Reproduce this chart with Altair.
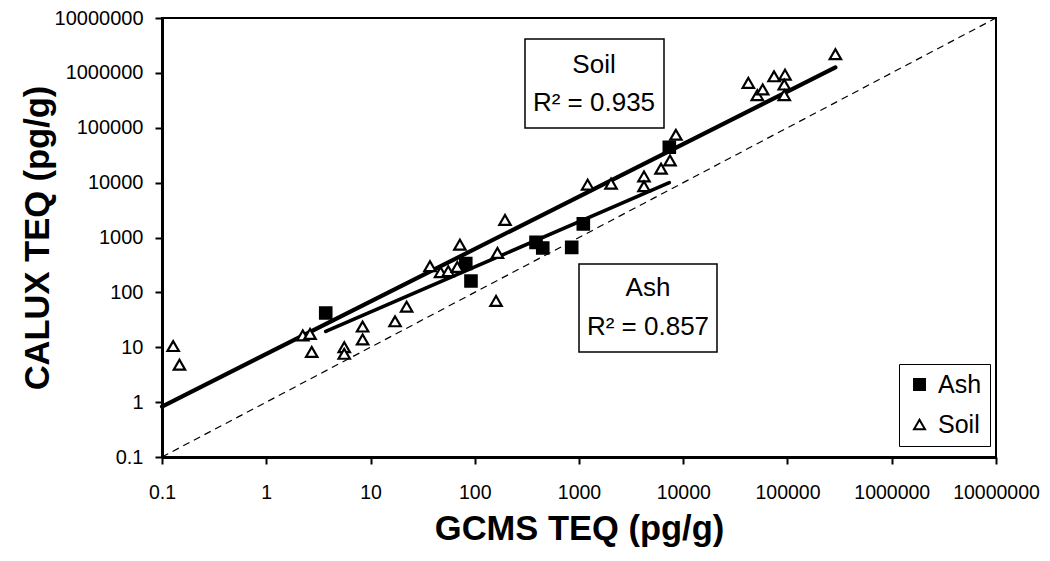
import altair as alt
import pandas as pd

# ---- data ----
ash_gcms = [3.72, 82, 92, 387, 449, 851, 1100, 7350]
ash_calux = [42, 335, 161, 815, 644, 662, 1770, 44000]

soil_gcms = [0.128, 0.147, 2.24, 2.63, 2.73, 5.6, 5.6, 8.4, 8.4, 17.2, 22.2,
             37.2, 47, 55.7, 68, 72, 165, 160, 195, 1210, 2030, 4200, 4200,
             6120, 7460, 8500, 42100, 51300, 57800, 74300, 94600, 93100, 93100, 288000]
soil_calux = [10.5, 4.8, 16.4, 17.5, 8.2, 10, 7.6, 23.8, 13.9, 29.7, 55,
              300, 234, 244, 290, 738, 523, 70, 2090, 9200, 9600, 13000, 8580,
              17900, 25300, 74500, 658000, 393000, 498000, 865000, 929000, 612000, 393000, 2190000]

# trendline end points (power trendlines)
soil_trend_gcms = [0.1, 288000]
soil_trend_calux = [0.83, 1260000]
ash_trend_gcms = [3.72, 7350]
ash_trend_calux = [19.4, 10000]

categories = ["Ash", "Soil"]
tick_values = [0.1, 1, 10, 100, 1000, 10000, 100000, 1000000, 10000000]
identity_line = [0.1, 10000000]

soil_label = ["Soil", "R² = 0.935"]
ash_label = ["Ash", "R² = 0.857"]

df = pd.DataFrame({
    "gcms": ash_gcms + soil_gcms,
    "calux": ash_calux + soil_calux,
    "sample": ["Ash"] * len(ash_gcms) + ["Soil"] * len(soil_gcms),
})
trend_df = pd.DataFrame({
    "gcms": soil_trend_gcms + ash_trend_gcms,
    "calux": soil_trend_calux + ash_trend_calux,
    "sample": ["Soil"] * 2 + ["Ash"] * 2,
})
ref_df = pd.DataFrame({"gcms": identity_line, "calux": identity_line})

FONT = "Liberation Sans"
W, H = 834, 439

xs = alt.Scale(type="log", domain=[0.1, 1e7], nice=False)
ys = alt.Scale(type="log", domain=[0.1, 1e7], nice=False)

x_axis = alt.Axis(values=tick_values, format=".1~f", grid=False, title="GCMS TEQ (pg/g)",
                  titleX=W / 2, titleY=72, titleBaseline="middle", titleAlign="center",
                  labelPadding=19, tickSize=7, labelOverlap=False, labelFlush=False,
                  labelBound=False, labelFontSize=19.5)
y_axis = alt.Axis(values=tick_values, format=".1~f", grid=False, title="CALUX TEQ (pg/g)",
                  titleX=-124, titleY=H / 2, titleBaseline="middle", titleAlign="center",
                  titleAngle=270, labelPadding=12, tickSize=7, labelOverlap=False,
                  labelFlush=False, labelBound=False)

X = alt.X("gcms:Q", scale=xs, axis=x_axis)
Y = alt.Y("calux:Q", scale=ys, axis=y_axis)

ref = alt.Chart(ref_df).mark_line(color="black", strokeWidth=1.2, strokeDash=[7, 5]).encode(x=X, y=Y)

soil_fit = alt.Chart(trend_df[trend_df["sample"] == "Soil"]).mark_line(
    color="black", strokeWidth=4.2, strokeCap="round").encode(x=X, y=Y)
ash_fit = alt.Chart(trend_df[trend_df["sample"] == "Ash"]).mark_line(
    color="black", strokeWidth=3.6, strokeCap="round").encode(x=X, y=Y)

legend = alt.Legend(title=None, orient="none", legendX=737, legendY=346,
                    strokeColor="black", fillColor="white",
                    padding=8, rowPadding=14, labelFont=FONT, labelFontSize=25,
                    labelColor="black", symbolSize=120, symbolStrokeWidth=2,
                    labelOffset=6)

points = alt.Chart(df).mark_point(size=130, strokeWidth=2.2, opacity=1, filled=False).encode(
    x=X, y=Y,
    shape=alt.Shape("sample:N", scale=alt.Scale(domain=categories, range=["square", "triangle-up"]), legend=legend),
    fill=alt.Fill("sample:N", scale=alt.Scale(domain=categories, range=["black", "white"]), legend=legend),
    stroke=alt.Stroke("sample:N", scale=alt.Scale(domain=categories, range=["black", "black"]), legend=legend),
)


def box(x0, x1, y0, y1):
    return alt.Chart(pd.DataFrame({"b": [0]})).mark_rect(fill="white", stroke="black", strokeWidth=1.5).encode(
        x=alt.value(x0), x2=alt.value(x1), y=alt.value(y0), y2=alt.value(y1))


def label(txt, x, y):
    return alt.Chart(pd.DataFrame({"t": [txt]})).mark_text(
        font=FONT, fontSize=26, color="black", align="center", baseline="middle").encode(
        x=alt.value(x), y=alt.value(y), text="t:N")


annots = [
    box(363, 502, 21, 110), label(soil_label[0], 432, 47), label(soil_label[1], 432, 85),
    box(417, 555, 246, 334), label(ash_label[0], 486, 270), label(ash_label[1], 486, 309),
]

chart = alt.layer(ref, soil_fit, ash_fit, points, *annots).properties(
    width=W, height=H,
    autosize=alt.AutoSizeParams(type="none"),
    padding={"left": 154, "top": 10, "right": 44, "bottom": 95},
).configure_view(stroke="black", strokeWidth=2).configure_axis(
    domainColor="black", domainWidth=3, tickColor="black", tickWidth=2,
    labelFont=FONT, labelFontSize=20, labelColor="black",
    titleFont=FONT, titleFontSize=34.5, titleFontWeight="bold", titleColor="black",
)

chart.save("out.html", embed_options={"renderer": "svg", "actions": False})
